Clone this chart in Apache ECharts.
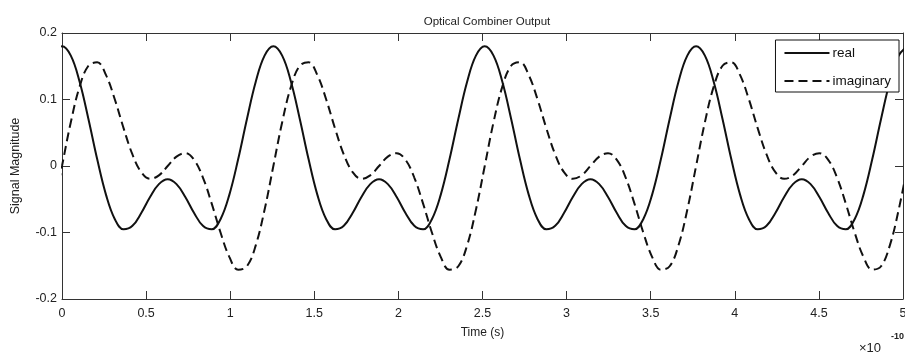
<!DOCTYPE html>
<html>
<head>
<meta charset="utf-8">
<script src="https://cdn.jsdelivr.net/npm/echarts@6/dist/echarts.min.js"></script>
<style>html,body{margin:0;padding:0;background:#fff}#c{width:905px;height:359px}</style>
</head>
<body>
<div id="c"></div>
<script>
// Time samples (units of 1e-10 s); first sample lies just left of the axis (clipped)
var time = [-0.0524,0,0.0524,0.1047,0.1571,0.2094,0.2618,0.3142,0.3665,0.4189,0.4712,0.5236,0.5760,0.6283,0.6807,0.7330,0.7854,0.8378,0.8901,0.9425,0.9948,1.0472,1.0996,1.1519,1.2043,
1.2566,1.3090,1.3614,1.4137,1.4661,1.5184,1.5708,1.6232,1.6755,1.7279,1.7802,1.8326,1.8850,1.9373,1.9897,2.0420,2.0944,2.1468,2.1991,2.2515,2.3038,2.3562,2.4086,2.4609,
2.5133,2.5656,2.6180,2.6704,2.7227,2.7751,2.8274,2.8798,2.9322,2.9845,3.0369,3.0892,3.1416,3.1940,3.2463,3.2987,3.3510,3.4034,3.4558,3.5081,3.5605,3.6128,3.6652,3.7176,
3.7699,3.8223,3.8746,3.9270,3.9794,4.0317,4.0841,4.1364,4.1888,4.2412,4.2935,4.3459,4.3982,4.4506,4.5029,4.5553,4.6077,4.6600,4.7124,4.7648,4.8171,4.8695,4.9218,4.9742,
5.0265];
var realVals = [0.1659,0.180,0.1659,0.1266,0.0707,0.0100,-0.0434,-0.0800,-0.0952,-0.0900,-0.0707,-0.0466,-0.0273,-0.0200,-0.0273,-0.0466,-0.0707,-0.0900,-0.0952,-0.0800,-0.0434,0.0100,0.0707,0.1266,0.1659,
0.180,0.1659,0.1266,0.0707,0.0100,-0.0434,-0.0800,-0.0952,-0.0900,-0.0707,-0.0466,-0.0273,-0.0200,-0.0273,-0.0466,-0.0707,-0.0900,-0.0952,-0.0800,-0.0434,0.0100,0.0707,0.1266,0.1659,
0.180,0.1659,0.1266,0.0707,0.0100,-0.0434,-0.0800,-0.0952,-0.0900,-0.0707,-0.0466,-0.0273,-0.0200,-0.0273,-0.0466,-0.0707,-0.0900,-0.0952,-0.0800,-0.0434,0.0100,0.0707,0.1266,0.1659,
0.180,0.1659,0.1266,0.0707,0.0100,-0.0434,-0.0800,-0.0952,-0.0900,-0.0707,-0.0466,-0.0273,-0.0200,-0.0273,-0.0466,-0.0707,-0.0900,-0.0952,-0.0800,-0.0434,0.0100,0.0707,0.1266,0.1659,
0.180];
var imagVals = [-0.0659,0,0.0659,0.1193,0.1507,0.1559,0.1366,0.1000,0.0566,0.0173,-0.0093,-0.0193,-0.0141,0,0.0141,0.0193,0.0093,-0.0173,-0.0566,-0.1000,-0.1366,-0.1559,-0.1507,-0.1193,-0.0659,
0,0.0659,0.1193,0.1507,0.1559,0.1366,0.1000,0.0566,0.0173,-0.0093,-0.0193,-0.0141,0,0.0141,0.0193,0.0093,-0.0173,-0.0566,-0.1000,-0.1366,-0.1559,-0.1507,-0.1193,-0.0659,
0,0.0659,0.1193,0.1507,0.1559,0.1366,0.1000,0.0566,0.0173,-0.0093,-0.0193,-0.0141,0,0.0141,0.0193,0.0093,-0.0173,-0.0566,-0.1000,-0.1366,-0.1559,-0.1507,-0.1193,-0.0659,
0,0.0659,0.1193,0.1507,0.1559,0.1366,0.1000,0.0566,0.0173,-0.0093,-0.0193,-0.0141,0,0.0141,0.0193,0.0093,-0.0173,-0.0566,-0.1000,-0.1366,-0.1559,-0.1507,-0.1193,-0.0659,
0];
var seriesNames = ['real', 'imaginary'];
var titleText = 'Optical Combiner Output';
var xName = 'Time (s)';
var yName = 'Signal Magnitude';

function pairs(xs, ys) { return xs.map(function (x, i) { return [x, ys[i]]; }); }

var FONT = 'Liberation Sans, Arial, Helvetica, sans-serif';
var axisCol = '#333';
var chart = echarts.init(document.getElementById('c'), null, {renderer: 'canvas'});
var baseX = {
  type: 'value', min: 0, max: 5, interval: 0.5,
  axisLine: {show: true, onZero: false, lineStyle: {color: axisCol, width: 1}},
  axisTick: {show: true, inside: true, length: 8, lineStyle: {color: axisCol}},
  splitLine: {show: false}
};
var baseY = {
  type: 'value', min: -0.2, max: 0.2, interval: 0.1,
  axisLine: {show: true, onZero: false, lineStyle: {color: axisCol, width: 1}},
  axisTick: {show: true, inside: true, length: 8, lineStyle: {color: axisCol}},
  splitLine: {show: false}
};
chart.setOption({
  animation: false,
  backgroundColor: '#fff',
  textStyle: {fontFamily: FONT},
  title: {
    text: titleText, left: 482, top: 11, textAlign: 'center',
    textStyle: {fontFamily: FONT, fontSize: 11.5, fontWeight: 'normal', color: '#222'}
  },
  grid: {left: 62, right: 2, top: 33, bottom: 60, containLabel: false, outerBoundsMode: 'none'},
  legend: {
    orient: 'vertical', right: 6, top: 40,
    data: seriesNames,
    itemWidth: 45, itemHeight: 12, itemGap: 14,
    padding: [6, 8, 4, 8],
    borderColor: '#111', borderWidth: 1, backgroundColor: '#fff',
    itemStyle: {opacity: 0},
    textStyle: {fontFamily: FONT, fontSize: 13.5, color: '#111', padding: [0, 0, 0, -2]}
  },
  xAxis: [
    Object.assign({}, baseX, {
      position: 'bottom',
      name: xName, nameLocation: 'middle', nameGap: 28,
      nameTextStyle: {fontFamily: FONT, fontSize: 12, color: '#222'},
      axisLabel: {show: true, margin: 8, fontSize: 12.5, color: '#222', fontFamily: FONT}
    }),
    Object.assign({}, baseX, {position: 'top', axisLabel: {show: false}})
  ],
  yAxis: [
    Object.assign({}, baseY, {
      position: 'left',
      name: yName, nameLocation: 'middle', nameGap: 40,
      nameTextStyle: {fontFamily: FONT, fontSize: 12.5, color: '#222'},
      axisLabel: {show: true, margin: 5, fontSize: 12.5, color: '#222', fontFamily: FONT}
    }),
    Object.assign({}, baseY, {position: 'right', axisLabel: {show: false}})
  ],
  graphic: [
    {type: 'text', right: 24, top: 342, style: {text: '×10', font: '13px ' + FONT, fill: '#222'}},
    {type: 'text', right: 1, top: 332, style: {text: '-10', font: 'bold 9px ' + FONT, fill: '#222'}}
  ],
  series: [
    {
      name: seriesNames[0], type: 'line', xAxisIndex: 0, yAxisIndex: 0, clip: true,
      data: pairs(time, realVals), showSymbol: false, symbol: 'none', smooth: 0.4,
      lineStyle: {color: '#111', width: 2, type: 'solid'}, itemStyle: {color: '#111'}
    },
    {
      name: seriesNames[1], type: 'line', xAxisIndex: 0, yAxisIndex: 0, clip: true,
      data: pairs(time, imagVals), showSymbol: false, symbol: 'none', smooth: 0.4,
      lineStyle: {color: '#111', width: 2, type: [9, 5]}, itemStyle: {color: '#111'}
    }
  ]
});
</script>
</body>
</html>
